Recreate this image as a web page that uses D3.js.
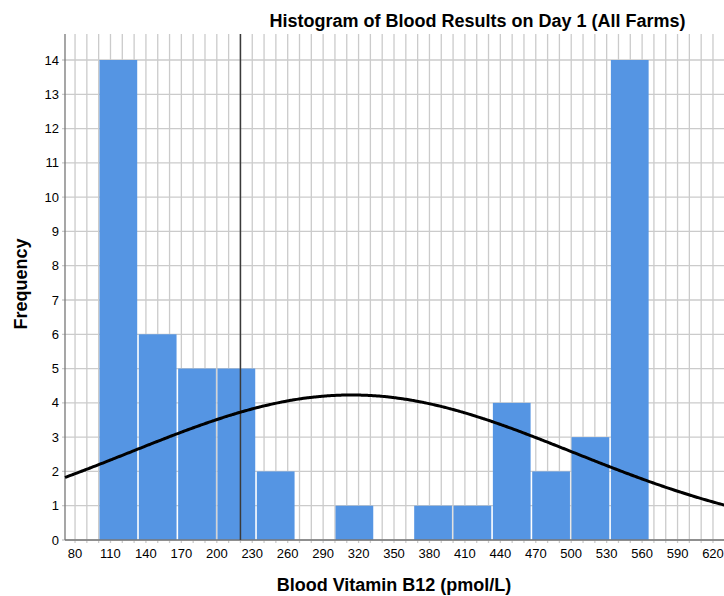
<!DOCTYPE html>
<html>
<head>
<meta charset="utf-8">
<script src="https://cdn.jsdelivr.net/npm/d3@7"></script>
<style>
  html, body { margin: 0; padding: 0; background: #fff; }
  svg { display: block; }
  text { font-family: "Liberation Sans", Arial, sans-serif; fill: #000; }
</style>
</head>
<body>
<svg id="chart" width="724" height="596"></svg>
<script>
// ---- data ----
const binLowerEdges = [100, 133.3, 166.6, 199.9, 233.2, 266.5, 299.8, 333.1, 366.4, 399.7, 433, 466.3, 499.6, 532.9];
const binWidth = 33.3;
const counts = [14, 6, 5, 5, 2, 0, 1, 0, 1, 1, 4, 2, 3, 14];
const xTickValues = [80, 110, 140, 170, 200, 230, 260, 290, 320, 350, 380, 410, 440, 470, 500, 530, 560, 590, 620];
const yTickValues = [0, 1, 2, 3, 4, 5, 6, 7, 8, 9, 10, 11, 12, 13, 14];
const referenceLine = 220;
const normalMean = 314;
const normalSD = 187;
const normalPeak = 4.23;
const titleText = "Histogram of Blood Results on Day 1 (All Farms)";
const xLabel = "Blood Vitamin B12 (pmol/L)";
const yLabel = "Frequency";

// ---- layout ----
const svg = d3.select("#chart");
const plotLeft = 65, plotRight = 724.8, plotTop = 34, plotBottom = 540;
const x = d3.scaleLinear().domain([71.5, 630]).range([plotLeft, plotRight]);
const y = d3.scaleLinear().domain([0, 14]).range([plotBottom, 60]);

// gridlines
const grid = svg.append("g");
const vGrid = d3.range(80, 630, 10);
grid.selectAll("line.v").data(vGrid).enter().append("line")
  .attr("x1", d => x(d)).attr("x2", d => x(d))
  .attr("y1", plotTop).attr("y2", plotBottom + 3)
  .attr("stroke", "#cbcbcb").attr("stroke-width", 1.3);
grid.selectAll("line.h").data(yTickValues).enter().append("line")
  .attr("x1", plotLeft - 3).attr("x2", 724)
  .attr("y1", d => y(d)).attr("y2", d => y(d))
  .attr("stroke", "#cbcbcb").attr("stroke-width", 1.3);

// bars
const bins = counts.map((c, i) => ({ x0: binLowerEdges[i], x1: binLowerEdges[i] + binWidth, c }));
svg.append("g").selectAll("rect").data(bins.filter(b => b.c > 0)).enter().append("rect")
  .attr("x", d => x(d.x0) + 0.8)
  .attr("width", d => x(d.x1) - x(d.x0) - 1.6)
  .attr("y", d => y(d.c))
  .attr("height", d => y(0) - y(d.c))
  .attr("fill", "#5595e3");

// axes
svg.append("line").attr("x1", plotLeft).attr("x2", plotLeft)
  .attr("y1", plotTop).attr("y2", plotBottom).attr("stroke", "#777").attr("stroke-width", 1.3);
svg.append("line").attr("x1", plotLeft).attr("x2", 724)
  .attr("y1", plotBottom).attr("y2", plotBottom).attr("stroke", "#777").attr("stroke-width", 1.3);

// reference line
svg.append("line").attr("x1", x(referenceLine)).attr("x2", x(referenceLine))
  .attr("y1", plotTop).attr("y2", plotBottom)
  .attr("stroke", "#3a3a3a").attr("stroke-width", 1.5);

// normal curve
const curvePts = d3.range(71.5, 631, 2).map(v => [v, normalPeak * Math.exp(-0.5 * Math.pow((v - normalMean) / normalSD, 2))]);
svg.append("path")
  .datum(curvePts)
  .attr("d", d3.line().x(d => x(d[0])).y(d => y(d[1])).curve(d3.curveBasis))
  .attr("fill", "none").attr("stroke", "#000").attr("stroke-width", 3);

// tick labels
svg.append("g").selectAll("text").data(yTickValues).enter().append("text")
  .attr("x", 59).attr("y", d => y(d)).attr("dy", "0.35em")
  .attr("text-anchor", "end").attr("font-size", 13).text(d => d);
svg.append("g").selectAll("text").data(xTickValues).enter().append("text")
  .attr("x", d => x(d)).attr("y", 558)
  .attr("text-anchor", "middle").attr("font-size", 13).text(d => d);

// titles
svg.append("text").attr("x", 477.5).attr("y", 27).attr("text-anchor", "middle")
  .attr("font-size", 18).attr("font-weight", "bold").text(titleText);
svg.append("text").attr("x", 394).attr("y", 591).attr("text-anchor", "middle")
  .attr("font-size", 18).attr("font-weight", "bold").text(xLabel);
svg.append("text").attr("transform", "translate(27,284) rotate(-90)").attr("text-anchor", "middle")
  .attr("font-size", 18).attr("font-weight", "bold").text(yLabel);
</script>
</body>
</html>
